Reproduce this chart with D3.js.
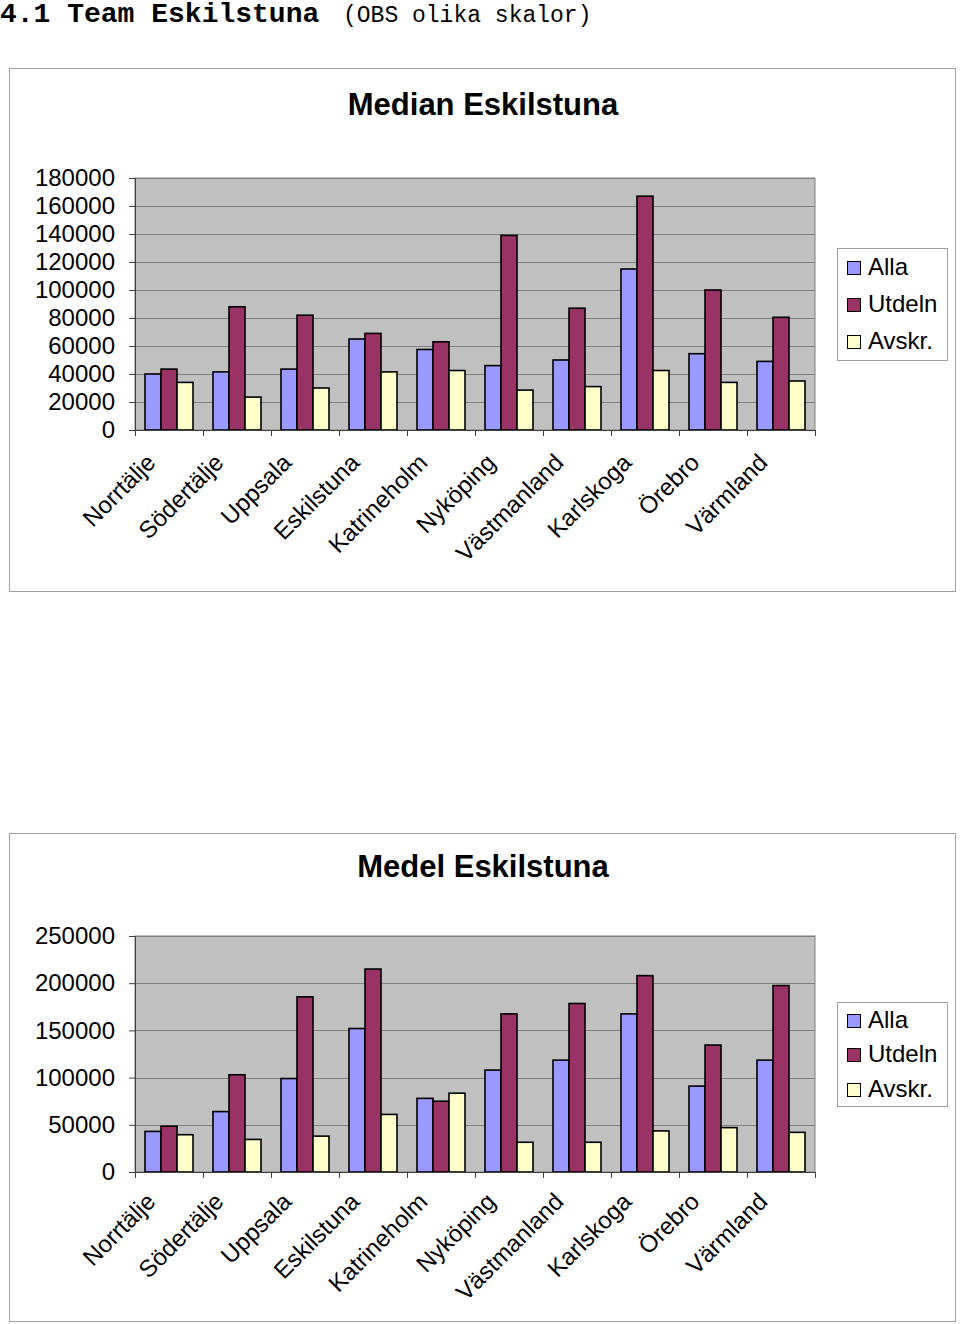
<!DOCTYPE html>
<html>
<head>
<meta charset="utf-8">
<script src="https://cdn.jsdelivr.net/npm/d3@7"></script>
<style>
  body { margin: 0; background: #fff; }
  svg { display: block; }
  text { font-family: "Liberation Sans", Arial, sans-serif; fill: #000; }
</style>
</head>
<body>
<div id="chart"></div>
<script>
// data
const categories = ["Norrtälje", "Södertälje", "Uppsala", "Eskilstuna", "Katrineholm",
                    "Nyköping", "Västmanland", "Karlskoga", "Örebro", "Värmland"];
const seriesNames = ["Alla", "Utdeln", "Avskr."];

const medianAlla   = [40000, 41500, 43500, 65000, 57500, 46000, 50000, 115000, 54500, 49000];
const medianUtdeln = [43500, 88000, 82000, 69000, 63000, 139000, 87000, 167000, 100000, 80500];
const medianAvskr  = [34000, 23500, 30000, 41500, 42500, 28500, 31000, 42500, 34000, 35000];

const medelAlla   = [43000, 64000, 99000, 152000, 78000, 108000, 118500, 167500, 91000, 118500];
const medelUtdeln = [48500, 103000, 185500, 215000, 75000, 167500, 178500, 208000, 134500, 197500];
const medelAvskr  = [39500, 34500, 38000, 61000, 83500, 31500, 31500, 43500, 47000, 42000];

const medianTicks = [0, 20000, 40000, 60000, 80000, 100000, 120000, 140000, 160000, 180000];
const medelTicks  = [0, 50000, 100000, 150000, 200000, 250000];

const colors = { "Alla": "#9999ff", "Utdeln": "#993366", "Avskr.": "#ffffcc" };

const W = 960, H = 1324;

const svg = d3.select("#chart").append("svg")
  .attr("width", W)
  .attr("height", H);

// page heading
const head = svg.append("text")
  .attr("x", 0)
  .attr("y", 22)
  .style("font-family", "'Liberation Mono', 'Courier New', monospace");
head.append("tspan")
  .style("font-size", "28px")
  .style("font-weight", "bold")
  .text("4.1 Team Eskilstuna");
head.append("tspan")
  .attr("x", 343)
  .style("font-size", "23px")
  .text("(OBS olika skalor)");

function drawChart(cfg) {
  const g = svg.append("g");

  // chart frame
  g.append("rect")
    .attr("x", 9.5).attr("y", cfg.frameTop + 0.5)
    .attr("width", 946).attr("height", cfg.frameH)
    .attr("fill", "#fff")
    .attr("stroke", "#a0a0a0");

  g.append("text")
    .attr("x", 483)
    .attr("y", cfg.titleY)
    .attr("text-anchor", "middle")
    .style("font-size", "31px")
    .style("font-weight", "bold")
    .text(cfg.title);

  const left = 135, right = 815;
  const x0 = d3.scaleBand()
    .domain(categories)
    .range([left, right])
    .paddingInner(20 / 68)
    .paddingOuter(10 / 68);

  const x1 = d3.scaleBand()
    .domain(seriesNames)
    .range([0, x0.bandwidth()]);

  const y = d3.scaleLinear()
    .domain([0, cfg.ticks[cfg.ticks.length - 1]])
    .range([cfg.plotBottom, cfg.plotTop]);

  // plot area
  g.append("rect")
    .attr("x", left).attr("y", cfg.plotTop)
    .attr("width", right - left).attr("height", cfg.plotBottom - cfg.plotTop)
    .attr("fill", "#c0c0c0")
    .attr("stroke", "#808080");

  // grid lines
  g.append("g")
    .selectAll("line")
    .data(cfg.ticks.slice(1))
    .join("line")
    .attr("x1", left).attr("x2", right)
    .attr("y1", d => Math.round(y(d)) + 0.5)
    .attr("y2", d => Math.round(y(d)) + 0.5)
    .attr("stroke", "#808080");

  // y axis
  const yAxis = g.append("g")
    .attr("transform", `translate(${left},0)`)
    .call(d3.axisLeft(y).tickValues(cfg.ticks).tickSize(6).tickPadding(14).tickFormat(d3.format("d")));
  yAxis.select(".domain").attr("stroke", "#404040");
  yAxis.selectAll(".tick line").attr("stroke", "#404040");
  yAxis.selectAll(".tick text")
    .style("font-size", "24px")
    .style("font-family", "'Liberation Sans', Arial, sans-serif")
    .attr("fill", "#000");

  // bars
  const rows = categories.map((c, i) => ({ cat: c, vals: cfg.series.map((s, k) => ({ name: seriesNames[k], v: s[i] })) }));

  g.append("g")
    .selectAll("g")
    .data(rows)
    .join("g")
    .attr("transform", d => `translate(${x0(d.cat)},0)`)
    .selectAll("rect")
    .data(d => d.vals)
    .join("rect")
    .attr("x", d => x1(d.name))
    .attr("y", d => y(d.v))
    .attr("width", x1.bandwidth())
    .attr("height", d => y(0) - y(d.v))
    .attr("fill", d => colors[d.name])
    .attr("stroke", "#000")
    .attr("stroke-width", 1.6);

  // x axis line and category tick marks
  const step = x0.step();
  const bounds = d3.range(categories.length + 1).map(i => left + i * step);
  g.append("line")
    .attr("x1", left).attr("x2", right)
    .attr("y1", cfg.plotBottom + 0.5).attr("y2", cfg.plotBottom + 0.5)
    .attr("stroke", "#404040");
  g.append("g")
    .selectAll("line")
    .data(bounds)
    .join("line")
    .attr("x1", d => Math.round(d) + 0.5).attr("x2", d => Math.round(d) + 0.5)
    .attr("y1", cfg.plotBottom).attr("y2", cfg.plotBottom + 6)
    .attr("stroke", "#404040");

  // rotated category labels
  g.append("g")
    .selectAll("text")
    .data(categories)
    .join("text")
    .attr("text-anchor", "end")
    .attr("transform", d => `translate(${x0(d) + x0.bandwidth() / 2 - 12},${cfg.plotBottom + cfg.labelDy}) rotate(-45)`)
    .style("font-size", "24px")
    .text(d => d);

  // legend
  const lg = g.append("g");
  lg.append("rect")
    .attr("x", 837.5).attr("y", cfg.legendTop + 0.5)
    .attr("width", 110).attr("height", cfg.legendH)
    .attr("fill", "#fff")
    .attr("stroke", "#a0a0a0");
  const items = lg.selectAll("g.item")
    .data(seriesNames)
    .join("g")
    .attr("class", "item")
    .attr("transform", (d, i) => `translate(0,${cfg.legendRows[i]})`);
  items.append("rect")
    .attr("x", 847.5).attr("y", -5.5)
    .attr("width", 13).attr("height", 13)
    .attr("fill", d => colors[d])
    .attr("stroke", "#000");
  items.append("text")
    .attr("x", 868)
    .attr("y", 8)
    .style("font-size", "24px")
    .text(d => d);
}

drawChart({
  title: "Median Eskilstuna",
  frameTop: 68, frameH: 523,
  titleY: 115,
  plotTop: 178, plotBottom: 430,
  labelDy: 34,
  ticks: medianTicks,
  series: [medianAlla, medianUtdeln, medianAvskr],
  legendTop: 248, legendH: 112,
  legendRows: [267, 304, 341]
});

drawChart({
  title: "Medel Eskilstuna",
  frameTop: 833, frameH: 488,
  titleY: 877,
  plotTop: 936, plotBottom: 1172,
  labelDy: 31,
  ticks: medelTicks,
  series: [medelAlla, medelUtdeln, medelAvskr],
  legendTop: 1002, legendH: 104,
  legendRows: [1020, 1054, 1089]
});
</script>
</body>
</html>
